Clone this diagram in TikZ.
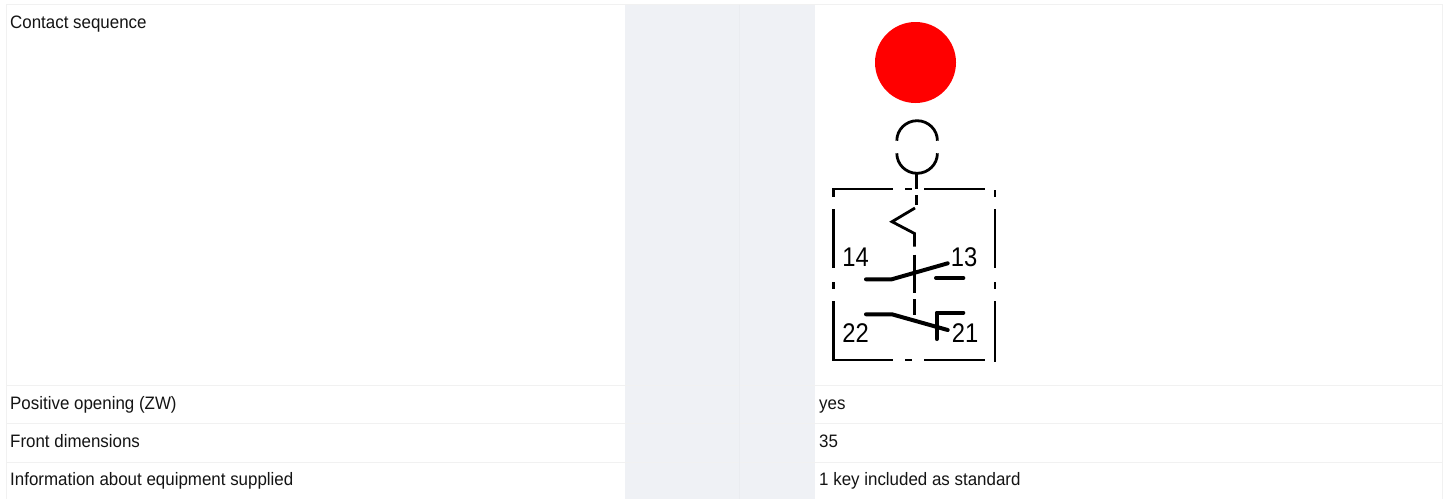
\documentclass[tikz,border=0pt]{standalone}
\usepackage{fontspec}
\setmainfont[FakeStretch=0.94]{Liberation Sans}
\newfontfamily\symfont[FakeStretch=0.88]{Liberation Sans}
\definecolor{band}{HTML}{EFF1F5}
\definecolor{rule}{HTML}{F1F1F1}
\definecolor{ink}{HTML}{141414}
\definecolor{stop}{HTML}{FF0000}
\tikzset{
 x=1pt,y=-1pt,
 rowlabel/.style={anchor=base west,inner sep=0pt,text=ink,font=\fontsize{18}{20}\selectfont},
 contactno/.style={anchor=base,inner sep=0pt,text=black,font=\symfont\fontsize{27}{29}\selectfont},
 thin sym/.style={draw=black,line width=2.3pt},
 act sym/.style={draw=black,line width=2.8pt,line join=miter},
 thick sym/.style={draw=black,line width=4pt,line cap=round,line join=round},
 gridline/.style={draw=rule,line width=1pt},
}
\begin{document}
\begin{tikzpicture}
\useasboundingbox (0,0) rectangle (1448,499);
\fill[white] (0,0) rectangle (1448,499);
\fill[band] (625,4.5) rectangle (815,499);
\draw[gridline] (6,499) -- (6,4.5) -- (1442.5,4.5) -- (1442.5,499);
\draw[gridline] (6,385.5) -- (1442.5,385.5);
\draw[gridline] (6,423.5) -- (1442.5,423.5);
\draw[gridline] (6,462) -- (1442.5,462);
\draw[draw=band!98!black,line width=1pt] (739,4.5) -- (739,499);
\node[rowlabel] (t1) at (10,28) {Contact sequence};
\node[rowlabel] (t2) at (10,409) {Positive opening (ZW)};
\node[rowlabel] (t3) at (10,447) {Front dimensions};
\node[rowlabel] (t4) at (10,485) {Information about equipment supplied};
\node[rowlabel] (v2) at (819,409) {yes};
\node[rowlabel] (v3) at (819,447) {35};
\node[rowlabel] (v4) at (819,485) {1 key included as standard};
% symbol
\fill[stop] (915.5,62.5) circle (40.5);
\draw[act sym] (896.8,140.7) arc[start angle=180,end angle=360,x radius=20.3,y radius=20];
\draw[act sym] (896.8,153.3) arc[start angle=180,end angle=0,x radius=20.3,y radius=20];
\draw[act sym] (916.7,173) -- (916.7,189);
\draw[act sym] (916.7,195) -- (916.7,205);
% frame
\draw[thin sym] (833.5,196.7) -- (833.5,189) -- (892.7,189);
\draw[thin sym] (905,189) -- (912,189);
\draw[thin sym] (924.3,189) -- (985,189);
\draw[thin sym] (994.7,190) -- (994.7,197);
\draw[thin sym] (833.5,209) -- (833.5,268);
\draw[thin sym] (994.7,209) -- (994.7,268);
\draw[thin sym] (833.5,282) -- (833.5,288.5);
\draw[thin sym] (994.7,282) -- (994.7,288.5);
\draw[thin sym] (833.5,301) -- (833.5,360) -- (892.7,360);
\draw[thin sym] (905,360) -- (912,360);
\draw[thin sym] (924.3,360) -- (985,360);
\draw[thin sym] (994.7,301) -- (994.7,361.5);
% actuator
\draw[act sym] (915,208) -- (892,221.7) -- (914.5,233.5) -- (914.5,246.5);
\draw[act sym] (914.5,254.5) -- (914.5,292.5);
\draw[act sym] (914.5,299) -- (914.5,315);
% contacts
\draw[thick sym] (866,279.3) -- (891.7,279.3) -- (947.7,263.3);
\draw[thick sym] (936,278) -- (963.3,278);
\draw[thick sym] (866,314.3) -- (892,314.3) -- (947.7,330);
\draw[thick sym] (963.3,312.7) -- (936.7,312.7) -- (936.7,339);
\node[contactno] (n14) at (855.5,266.7) {14};
\node[contactno] (n13) at (964,266.7) {13};
\node[contactno] (n22) at (855.5,342) {22};
\node[contactno] (n21) at (965,342) {21};
\end{tikzpicture}
\end{document}
